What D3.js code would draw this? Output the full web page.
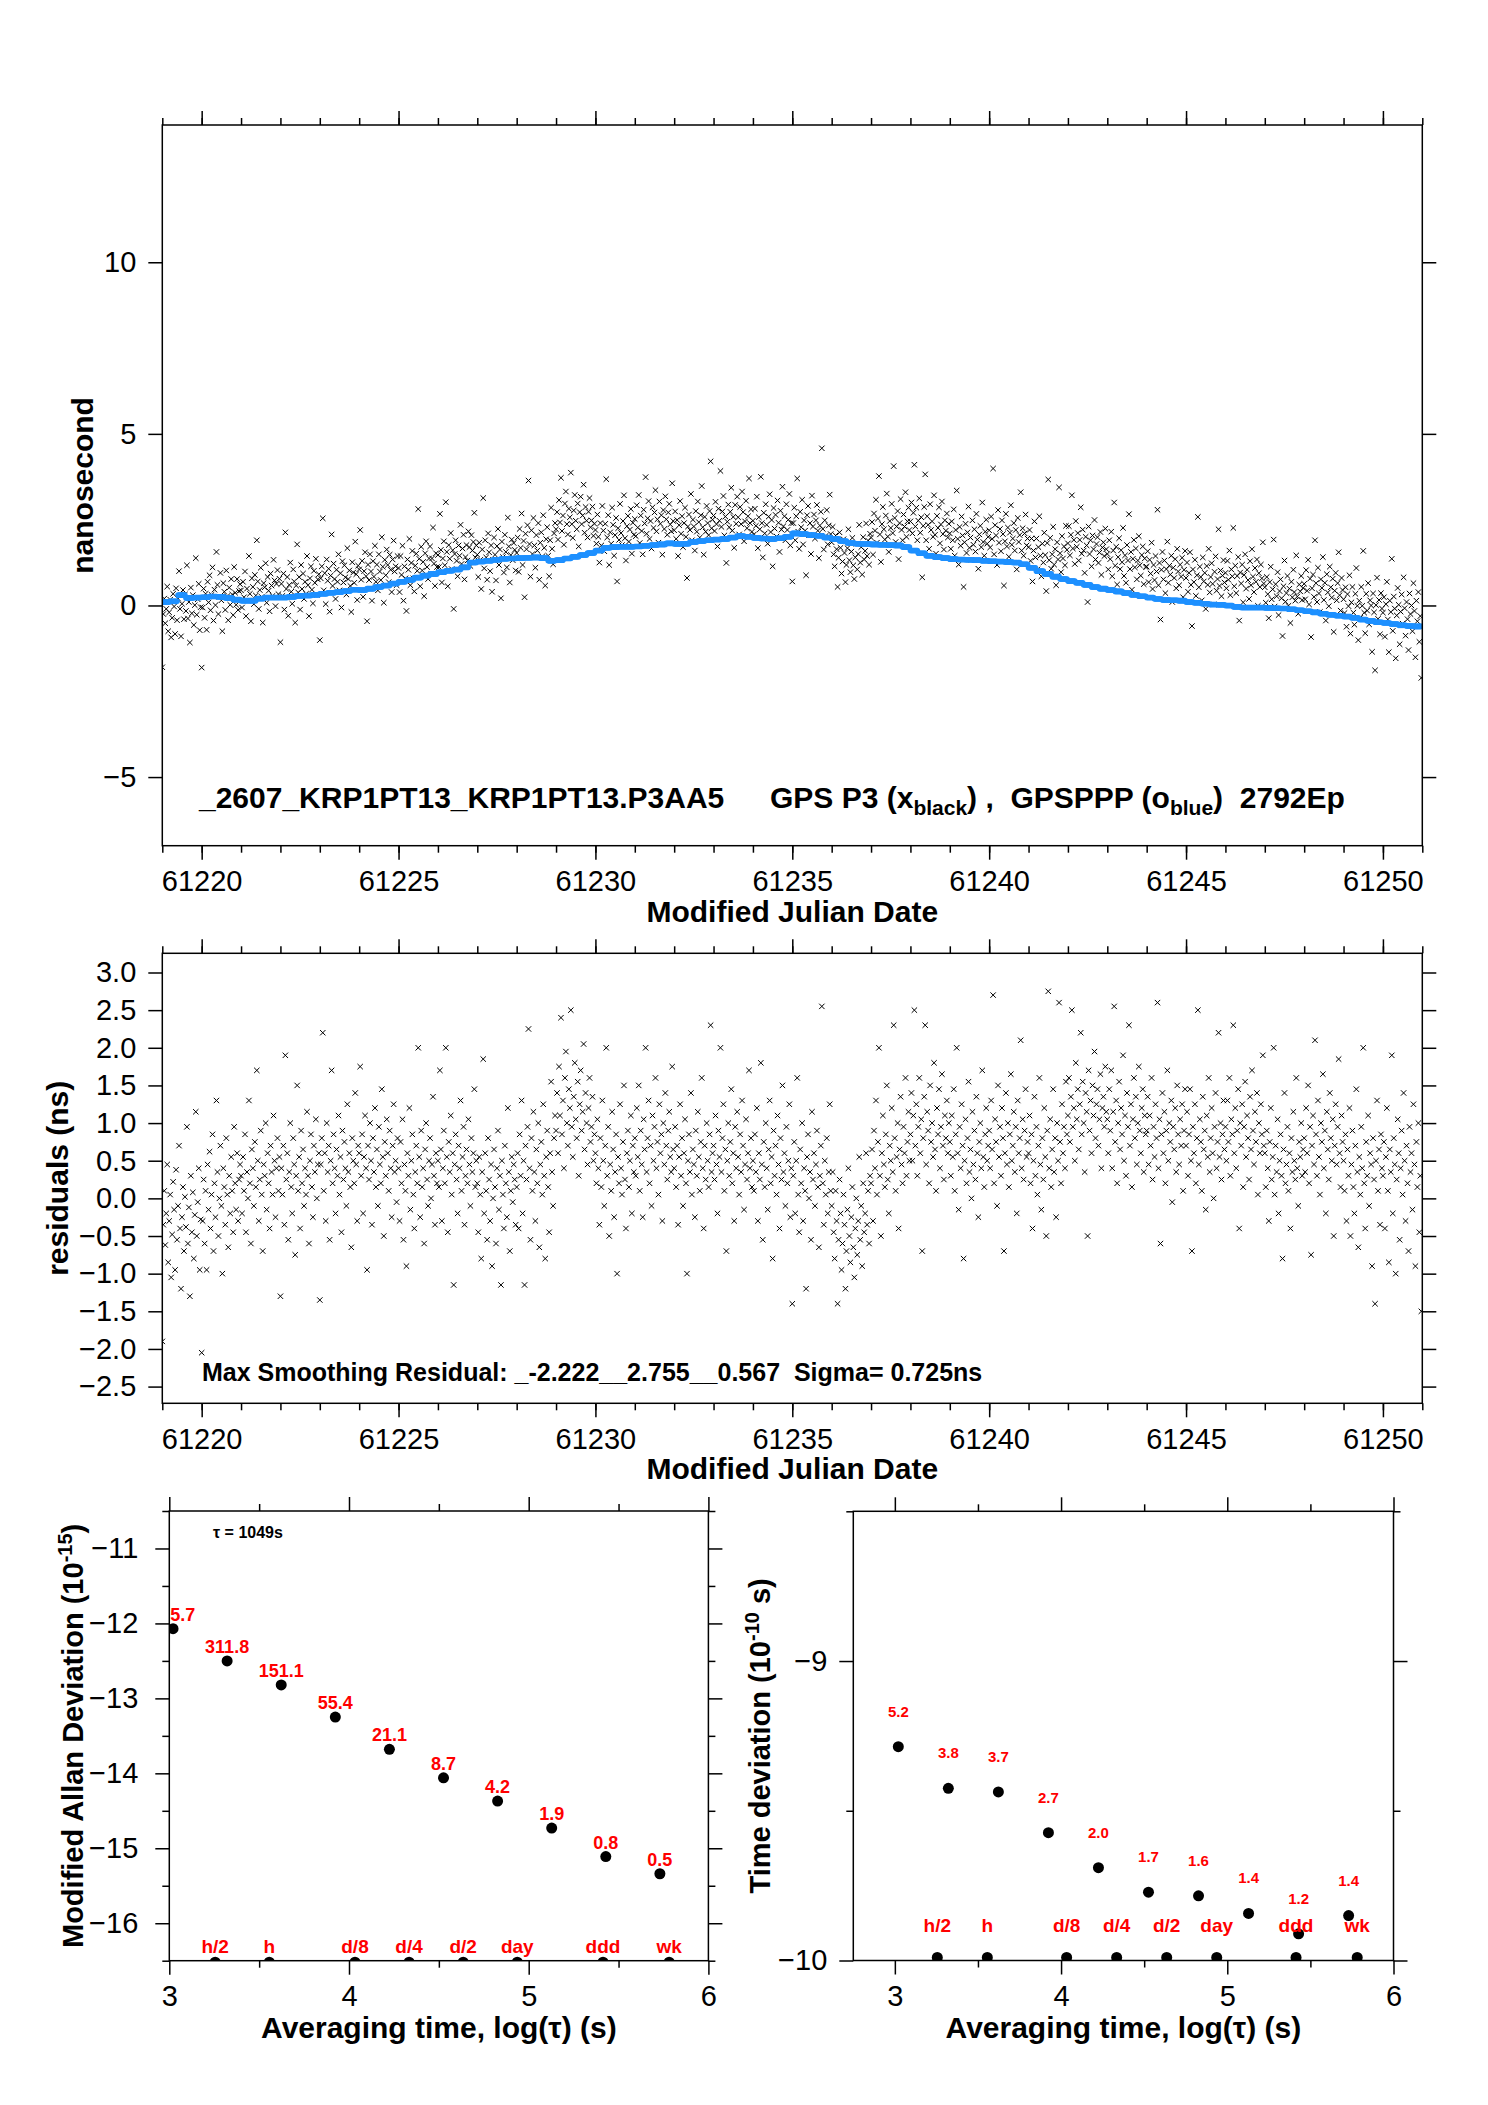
<!DOCTYPE html>
<html>
<head>
<meta charset="utf-8">
<script src="https://cdn.jsdelivr.net/npm/d3@7"></script>
<style>
  body { margin: 0; background: #fff; }
  text { font-family: "Liberation Sans", Arial, sans-serif; }
</style>
</head>
<body>
<div id="chart-area"></div>
<script>
// ---- data ----
var mjdStart = 61219, pointsPerDay = 40
var mjdDomain = [61219, 61251]
var nsDomain = [-7, 14]
var resDomain = [-2.722, 3.255]

// GPSPPP (blue), one value every 0.2 day
var bluePerStep = 8
var blue = [
  0.10, 0.12, 0.30, 0.22, 0.23,   0.24, 0.26, 0.25, 0.22, 0.17,
  0.14, 0.14, 0.20, 0.23, 0.23,   0.23, 0.25, 0.28, 0.29, 0.31,
  0.34, 0.37, 0.39, 0.42, 0.46,   0.45, 0.49, 0.54, 0.58, 0.64,
  0.69, 0.74, 0.81, 0.87, 0.92,   0.97, 1.01, 1.05, 1.11, 1.25,
  1.28, 1.30, 1.33, 1.36, 1.37,   1.38, 1.39, 1.40, 1.38, 1.30,
  1.32, 1.37, 1.42, 1.47, 1.53,   1.60, 1.68, 1.70, 1.71, 1.71,
  1.72, 1.74, 1.76, 1.78, 1.81,   1.79, 1.80, 1.85, 1.88, 1.90,
  1.92, 1.94, 1.98, 2.02, 2.00,   1.97, 1.95, 1.94, 1.96, 2.00,
  2.10, 2.08, 2.05, 2.03, 1.98,   1.94, 1.88, 1.82, 1.80, 1.79,
  1.78, 1.77, 1.76, 1.75, 1.70,   1.60, 1.52, 1.45, 1.41, 1.38,
  1.35, 1.34, 1.33, 1.32, 1.30,   1.29, 1.28, 1.27, 1.25, 1.20,
  1.10, 1.00, 0.92, 0.84, 0.77,   0.71, 0.66, 0.60, 0.54, 0.49,
  0.45, 0.41, 0.36, 0.31, 0.27,   0.23, 0.19, 0.16, 0.15, 0.14,
  0.10, 0.08, 0.05, 0.03, 0.02,   0.00, -0.04, -0.06, -0.06, -0.06,
  -0.07, -0.08, -0.09, -0.11, -0.14,   -0.17, -0.20, -0.24, -0.27, -0.30,
  -0.32, -0.36, -0.41, -0.45, -0.49,   -0.51, -0.54, -0.58, -0.60, -0.61
]

// residuals GPS P3 - GPSPPP (ns), 40 per day from MJD 61219
var residuals = [
  -1.90,-0.35,0.10,-0.62,-0.20,0.45,-0.85,-0.30,0.05,-1.05,-0.48,0.22,-0.15,-0.95,0.38,-0.55,-0.10,0.70,-0.40,-1.20,-0.25,0.15,-0.70,0.02,-0.38,0.95,-0.60,-0.12,-1.30,0.30,-0.45,0.08,-0.80,-0.22,1.15,-0.50,-0.05,0.40,-0.95,-0.28,
  -2.05,-0.30,0.25,-0.60,0.10,-0.95,0.45,-0.15,0.62,-0.40,0.05,0.85,-0.70,0.20,-0.25,1.30,0.35,-0.50,0.00,0.70,-0.10,-1.00,0.40,0.15,-0.35,0.80,0.05,-0.65,0.30,-0.20,0.55,0.10,-0.45,0.95,0.20,-0.15,0.60,-0.30,0.25,0.45,
  0.30,-0.20,0.55,0.10,0.85,-0.45,0.35,0.00,1.30,0.20,-0.60,0.65,0.40,-0.10,0.75,0.15,1.70,0.50,-0.30,0.25,0.90,0.05,-0.70,0.45,0.30,1.00,-0.15,0.60,0.20,-0.40,0.70,0.35,0.05,1.10,0.50,-0.25,0.40,0.80,0.10,0.55,
  -1.30,0.40,0.05,0.70,-0.35,1.90,0.25,0.60,-0.55,0.35,1.00,0.15,-0.20,0.80,0.45,-0.75,0.30,1.50,0.10,0.55,-0.40,0.90,0.20,0.65,-0.10,0.40,0.05,1.15,0.30,-0.60,0.50,0.85,0.15,-0.25,0.70,0.35,1.05,0.00,0.45,0.60,
  -1.35,0.45,0.80,2.20,0.10,0.60,-0.30,1.00,0.35,0.70,-0.55,0.50,1.70,0.20,0.85,0.40,-0.20,0.65,0.30,1.10,0.05,0.55,-0.45,0.90,0.25,0.75,0.40,-0.10,1.25,0.35,0.60,0.15,-0.65,0.80,0.50,0.20,1.40,0.45,-0.30,0.70,
  0.60,1.75,0.30,0.85,-0.20,0.55,1.10,0.40,-0.95,0.70,0.25,1.00,0.50,-0.35,0.80,0.35,1.20,0.15,0.65,-0.10,0.95,0.45,0.20,1.45,0.55,-0.50,0.75,0.30,1.05,0.60,0.10,0.90,0.40,-0.25,0.70,1.25,0.35,0.50,-0.05,0.80,
  0.40,-0.30,0.75,0.20,1.05,-0.55,0.45,0.10,-0.90,0.60,0.30,1.20,-0.15,0.50,0.85,0.05,-0.40,0.35,0.70,0.20,2.00,0.55,-0.25,0.90,0.15,0.40,-0.60,0.65,1.00,0.25,-0.10,0.50,0.80,0.00,0.45,1.35,0.30,-0.35,0.60,0.20,
  0.50,0.15,1.70,0.65,-0.30,0.40,0.90,0.20,2.00,0.55,-0.45,0.75,0.35,1.10,0.05,0.60,-1.15,0.45,0.85,0.25,-0.20,0.70,0.40,1.30,0.10,0.55,0.95,-0.35,0.30,0.65,0.20,1.05,0.45,-0.10,0.80,0.35,0.60,1.45,0.15,0.50,
  0.20,-0.45,0.55,0.05,-0.80,0.35,1.85,-0.20,0.60,0.10,-0.55,0.80,0.25,-0.30,0.45,-0.90,0.00,0.65,0.15,-0.60,0.40,0.90,-0.15,0.30,-1.15,0.50,0.05,-0.40,0.70,0.20,-0.25,1.20,0.35,-0.70,0.10,0.55,-0.05,0.45,0.25,-0.35,
  0.15,0.60,-0.40,0.85,0.30,1.30,-0.20,0.50,-1.15,0.70,0.25,0.95,2.25,0.40,-0.55,0.80,0.10,1.15,0.35,-0.30,0.65,0.20,1.00,-0.65,0.45,0.75,0.05,1.25,0.30,-0.80,0.55,0.90,0.15,-0.45,0.60,1.55,0.35,-0.10,0.80,1.10,
  0.90,1.40,0.60,1.75,1.10,2.40,0.85,1.30,0.40,1.60,1.95,1.00,0.70,1.45,1.20,2.50,0.95,0.55,1.35,1.80,1.05,0.80,1.55,0.30,1.25,1.70,0.90,1.15,2.05,0.65,1.40,1.00,0.45,1.20,1.60,0.75,0.95,1.35,0.50,0.85,
  0.60,0.20,1.05,0.40,-0.35,0.80,0.15,1.30,0.50,-0.10,0.70,2.00,0.30,0.95,-0.50,0.45,0.10,1.15,0.65,-0.25,0.35,0.85,-1.00,0.55,0.20,1.25,0.40,0.05,0.75,1.50,0.25,-0.40,0.60,0.90,0.15,0.50,1.10,-0.20,0.70,0.35,
  0.80,0.30,1.20,0.55,1.50,0.10,0.90,0.45,-0.25,1.05,0.65,2.00,0.35,0.80,1.30,0.20,0.70,-0.10,1.10,0.50,0.95,1.60,0.40,0.75,0.05,1.25,0.60,0.85,-0.30,1.00,0.45,1.40,0.70,0.25,0.90,1.15,0.55,0.35,1.75,0.65,
  0.40,0.95,0.15,0.70,-0.35,0.55,1.25,0.30,0.80,-0.10,0.60,1.05,0.20,-1.00,0.50,0.85,0.35,1.40,0.05,0.65,0.45,-0.25,0.90,0.30,1.15,0.55,0.10,0.75,1.60,0.40,-0.40,0.70,0.25,1.00,0.50,0.15,0.85,2.30,0.35,0.60,
  0.70,0.25,1.10,0.45,-0.20,0.90,0.55,2.00,0.35,0.80,1.25,0.10,0.65,-0.70,0.50,1.00,0.30,0.75,1.45,0.20,0.60,-0.30,0.95,0.40,1.15,0.55,0.05,0.85,0.35,1.30,0.70,-0.15,0.45,1.05,0.25,0.60,1.70,0.40,0.80,0.15,
  0.50,0.10,0.85,0.35,1.20,-0.30,0.60,0.25,1.80,0.45,-0.55,0.75,0.15,1.00,0.40,-0.15,0.65,1.30,0.20,0.55,-0.80,0.90,0.30,0.70,0.05,1.10,0.45,-0.40,0.80,0.25,1.50,0.35,0.60,-0.10,0.95,0.20,0.50,1.25,-0.25,0.40,
  -1.40,0.30,0.75,-0.20,0.50,1.60,0.05,-0.45,0.65,0.20,1.00,-0.30,0.40,0.10,-1.20,0.55,0.85,0.00,0.35,-0.55,1.15,0.25,0.60,-0.10,0.45,0.90,0.15,-0.65,0.30,0.70,2.55,0.20,-0.35,0.50,0.05,0.80,-0.20,0.35,1.25,0.10,
  -0.10,0.35,-0.45,-0.80,0.10,-0.30,-1.40,-0.55,0.25,-0.20,-0.95,-0.60,0.05,-0.35,-1.20,-0.70,-0.15,0.40,-0.50,-0.85,-0.25,0.15,-0.65,-1.05,-0.40,0.00,-0.75,-0.30,0.55,-0.55,-0.10,-0.90,0.20,-0.45,-0.20,0.60,-0.35,0.10,-0.60,0.30,
  0.20,0.65,-0.30,0.90,0.40,1.30,0.05,0.75,2.00,0.30,-0.50,0.60,1.10,0.45,0.15,0.85,1.50,0.25,-0.20,0.70,0.50,1.20,0.35,2.30,0.80,0.10,0.55,1.00,-0.40,0.65,1.35,0.45,0.20,0.95,0.60,1.60,0.30,0.75,1.15,0.50,
  0.85,1.40,0.50,1.10,2.50,0.70,1.25,0.30,0.95,1.60,0.60,1.05,-0.70,0.80,1.35,2.30,0.45,1.15,0.90,0.20,1.50,0.75,1.00,0.55,1.80,0.65,0.10,1.20,0.85,1.45,0.40,0.95,1.65,0.70,0.25,1.10,0.80,1.30,0.60,1.00,
  0.75,0.30,1.10,0.55,1.45,0.10,0.85,2.00,0.60,-0.15,0.95,0.40,1.25,0.70,-0.80,0.50,1.05,0.20,0.80,1.55,0.35,0.65,0.00,1.15,0.45,0.90,0.25,1.35,0.60,-0.25,0.75,1.00,0.40,1.70,0.55,0.15,0.85,1.20,0.50,0.70,
  0.90,0.40,1.30,0.65,2.70,0.20,1.05,0.75,-0.10,1.50,0.55,0.95,0.30,1.20,0.80,-0.70,0.60,1.40,0.45,1.00,0.15,0.85,1.65,0.50,0.70,1.15,0.35,0.95,-0.20,1.30,0.60,0.80,2.10,0.40,1.05,0.25,0.90,1.45,0.55,0.75,
  0.60,1.10,0.20,0.85,-0.40,0.50,1.35,0.30,0.95,0.05,0.70,1.60,0.45,-0.15,0.80,0.25,1.20,0.55,-0.50,0.90,2.75,0.40,1.05,0.15,0.65,1.45,0.35,0.80,-0.25,1.00,0.50,2.60,0.75,0.20,1.25,0.60,0.95,0.40,1.55,0.85,
  1.10,1.60,0.75,1.35,2.50,0.95,1.20,0.50,1.80,1.05,1.45,0.65,1.25,2.20,0.85,1.55,1.00,0.35,1.40,1.15,-0.50,1.70,0.90,1.30,0.60,1.50,1.10,1.95,0.80,1.25,1.45,0.70,1.05,1.65,0.40,1.20,1.35,0.95,1.75,1.15,
  1.05,0.60,1.45,0.90,1.70,0.40,1.15,2.55,0.75,1.30,0.20,1.00,1.55,0.65,1.20,0.85,1.90,0.50,1.10,0.30,1.40,0.95,2.30,0.70,1.25,0.15,1.05,1.60,0.80,1.35,0.45,1.00,1.75,0.90,0.60,1.20,1.45,0.35,1.10,0.85,
  0.90,1.35,0.45,1.10,0.70,1.60,0.25,0.95,0.55,1.25,0.80,2.60,0.40,1.05,-0.60,0.85,1.40,0.60,1.15,0.20,0.90,1.70,0.50,1.00,0.75,1.30,-0.05,0.95,0.65,1.20,0.35,1.50,0.85,0.45,1.05,0.70,1.25,0.10,0.90,1.45,
  0.70,1.15,0.30,0.85,1.45,0.50,-0.70,0.95,0.60,1.25,0.20,0.80,2.50,0.45,1.05,0.75,0.10,1.35,0.65,0.90,-0.15,1.10,0.55,1.60,0.35,0.80,1.20,0.60,0.00,0.95,1.40,0.40,0.75,2.20,0.55,1.00,0.25,0.85,1.30,0.65,
  0.95,0.50,1.30,0.75,1.60,0.30,1.05,0.85,2.30,0.60,1.20,0.40,0.90,1.45,-0.40,1.00,0.70,1.25,0.15,0.95,1.55,0.55,1.10,0.80,0.25,1.35,0.65,1.70,0.90,0.45,1.15,0.75,1.40,0.05,1.00,0.60,1.25,0.85,1.90,0.70,
  0.60,0.15,0.90,0.40,-0.30,0.75,1.20,0.25,0.55,2.00,0.05,0.70,0.35,1.05,-0.20,0.50,0.85,0.30,-0.80,0.65,1.40,0.20,0.45,0.95,0.10,0.60,-0.40,0.80,0.35,1.15,0.50,0.25,1.60,0.40,-0.10,0.75,0.55,1.00,0.30,0.65,
  0.80,0.35,1.20,0.60,1.50,0.20,0.95,-0.75,0.70,1.10,0.45,2.10,0.85,0.30,1.30,0.55,0.05,1.00,0.75,1.65,0.40,0.90,-0.20,1.15,0.65,0.25,1.40,0.80,0.50,1.05,-0.50,0.70,1.25,0.45,0.95,1.85,0.60,0.15,1.10,0.75,
  0.50,0.10,0.85,-0.30,0.65,0.30,1.20,-0.50,0.45,0.90,0.15,-0.20,0.70,1.45,0.35,-0.65,0.55,0.05,0.95,0.40,2.00,0.20,-0.40,0.75,0.30,1.10,-0.10,0.60,0.45,-0.90,0.80,0.25,-1.40,0.50,1.30,0.10,0.65,-0.35,0.85,0.40,
  0.30,0.75,-0.40,0.55,1.20,0.10,-0.85,0.65,0.35,1.90,-0.20,0.80,0.45,-1.00,0.25,1.05,0.60,-0.55,0.40,0.90,0.05,1.40,0.50,-0.30,0.70,0.20,-0.70,0.95,0.35,0.60,-0.15,1.25,0.45,-0.90,0.75,0.15,1.00,-0.45,0.30,-1.50
]

// stability: averaging times (s), log10 of deviation, labels
var tauSeconds = [1049, 2098, 4196, 8392, 16784, 33568, 67136, 134272, 268544, 537088]
var madevLog = [-12.07, -12.50, -12.82, -13.25, -13.68, -14.06, -14.37, -14.73, -15.11, -15.34]
var madevLabels = ['5.7', '311.8', '151.1', '55.4', '21.1', '8.7', '4.2', '1.9', '0.8', '0.5']
var tdevLog = [-9.286, -9.425, -9.437, -9.573, -9.690, -9.772, -9.784, -9.843, -9.911, -9.850]
var tdevLabels = ['5.2', '3.8', '3.7', '2.7', '2.0', '1.7', '1.6', '1.4', '1.2', '1.4']
var markNames = ['h/2', 'h', 'd/8', 'd/4', 'd/2', 'day', 'ddd', 'wk']
var markSeconds = [1800, 3600, 10800, 21600, 43200, 86400, 259200, 604800]

// ---- drawing ----
var svg = d3.select('#chart-area')
  .append('svg')
    .attr('width', 1488)
    .attr('height', 2105)

svg.append('rect').attr('width', 1488).attr('height', 2105).attr('fill', '#fff')

function makePanel(id, box, xDomain, yDomain) {
  var x = d3.scaleLinear().domain(xDomain).range([box.left, box.right])
  var y = d3.scaleLinear().domain(yDomain).range([box.bottom, box.top])
  svg.append('clipPath').attr('id', id)
    .append('rect')
      .attr('x', box.left).attr('y', box.top)
      .attr('width', box.right - box.left).attr('height', box.bottom - box.top)
  return { x: x, y: y, box: box, clip: 'url(#' + id + ')' }
}

function drawAxes(p, o) {
  var b = p.box
  var sides = [
    [d3.axisBottom, p.x, 'translate(0,' + b.bottom + ')', o.xMajor, o.xMinor, o.xFmt, 11],
    [d3.axisTop, p.x, 'translate(0,' + b.top + ')', o.xMajor, o.xMinor, null, 0],
    [d3.axisLeft, p.y, 'translate(' + b.left + ',0)', o.yMajor, o.yMinor, o.yFmt, o.yPad || 12],
    [d3.axisRight, p.y, 'translate(' + b.right + ',0)', o.yMajor, o.yMinor, null, 0]
  ]
  sides.forEach(s => {
    var minor = s[0](s[1]).tickValues(s[4]).tickSize(7).tickSizeOuter(0).tickFormat('')
    var major = s[0](s[1]).tickValues(s[3]).tickSize(14).tickSizeOuter(0)
      .tickPadding(s[6]).tickFormat(s[5] ? d3.format(s[5]) : '')
    ;[minor, major].forEach(a => {
      var g = svg.append('g')
        .attr('transform', s[2])
        .call(a)
        .attr('font-size', 29)
        .attr('font-family', '"Liberation Sans", Arial, sans-serif')
      g.select('.domain').remove()
      g.selectAll('line').attr('stroke-width', 1.5)
    })
  })
  svg.append('rect')
    .attr('x', b.left).attr('y', b.top)
    .attr('width', b.right - b.left).attr('height', b.bottom - b.top)
    .attr('fill', 'none').attr('stroke', '#000').attr('stroke-width', 1.5)
}

function boldText(x, y, size, str) {
  return svg.append('text')
    .attr('x', x).attr('y', y)
    .attr('font-size', size).attr('font-weight', 'bold')
    .attr('xml:space', 'preserve').style('white-space', 'pre')
    .text(str)
}

function cross(cx, cy) {
  var s = 2.7
  return 'M' + (cx - s) + ',' + (cy - s) + 'L' + (cx + s) + ',' + (cy + s) +
         'M' + (cx - s) + ',' + (cy + s) + 'L' + (cx + s) + ',' + (cy - s)
}

var epochs = residuals.map((r, i) => {
  var b = blue[Math.floor(i / bluePerStep)]
  return { t: mjdStart + i / pointsPerDay, res: r, blue: b, p3: b + r }
})

var dayTicks = d3.range(61219, 61252)
var dayMajor = [61220, 61225, 61230, 61235, 61240, 61245, 61250]

// ---- panel 1: time series ----
var pTs = makePanel('clipTs', { left: 162.3, right: 1422.3, top: 125, bottom: 845.7 }, mjdDomain, nsDomain)

var gTs = svg.append('g').attr('clip-path', pTs.clip)
gTs.selectAll('path.p3')
  .data(epochs)
  .enter().append('path')
    .attr('class', 'p3')
    .attr('d', d => cross(pTs.x(d.t), pTs.y(d.p3)))
    .attr('stroke', '#000').attr('stroke-width', 1).attr('fill', 'none')
gTs.selectAll('circle.ppp')
  .data(epochs)
  .enter().append('circle')
    .attr('class', 'ppp')
    .attr('cx', d => pTs.x(d.t))
    .attr('cy', d => pTs.y(d.blue))
    .attr('r', 2.8)
    .attr('fill', '#1e90ff')

drawAxes(pTs, { xMajor: dayMajor, xMinor: dayTicks, yMajor: [-5, 0, 5, 10], yMinor: [], xFmt: 'd', yFmt: 'd' })

svg.append('text')
  .attr('transform', 'translate(93,485.4) rotate(-90)')
  .attr('text-anchor', 'middle').attr('font-size', 30).attr('font-weight', 'bold')
  .text('nanosecond')
boldText(792.3, 921.7, 30, 'Modified Julian Date').attr('text-anchor', 'middle')

boldText(199, 808, 30, '_2607_KRP1PT13_KRP1PT13.P3AA5')
var leg = boldText(770, 808, 30, 'GPS P3 (x')
leg.append('tspan').attr('dy', 7).attr('font-size', 21).text('black')
leg.append('tspan').attr('dy', -7).text(') ,  GPSPPP (o')
leg.append('tspan').attr('dy', 7).attr('font-size', 21).text('blue')
leg.append('tspan').attr('dy', -7).text(')  2792Ep')

// ---- panel 2: residuals ----
var pRes = makePanel('clipRes', { left: 162.3, right: 1422.3, top: 953.3, bottom: 1403.3 }, mjdDomain, resDomain)

svg.append('g').attr('clip-path', pRes.clip)
  .selectAll('path')
  .data(epochs)
  .enter().append('path')
    .attr('d', d => cross(pRes.x(d.t), pRes.y(d.res)))
    .attr('stroke', '#000').attr('stroke-width', 1).attr('fill', 'none')

drawAxes(pRes, {
  xMajor: dayMajor, xMinor: dayTicks,
  yMajor: d3.range(-2.5, 3.01, 0.5), yMinor: [], xFmt: 'd', yFmt: '.1f'
})

svg.append('text')
  .attr('transform', 'translate(68,1178.3) rotate(-90)')
  .attr('text-anchor', 'middle').attr('font-size', 30).attr('font-weight', 'bold')
  .text('residuals (ns)')
boldText(792.3, 1479.3, 30, 'Modified Julian Date').attr('text-anchor', 'middle')
boldText(202, 1380.7, 25, 'Max Smoothing Residual: _-2.222__2.755__0.567  Sigma= 0.725ns')

// ---- panel 3: modified Allan deviation ----
var pAd = makePanel('clipAd', { left: 169.3, right: 708.4, top: 1511, bottom: 1960.7 }, [3, 6], [-16.5, -10.5])
var stab = tauSeconds.map((t, i) => ({ lt: Math.log10(t), ad: madevLog[i], td: tdevLog[i], adl: madevLabels[i], tdl: tdevLabels[i] }))
var marks = markSeconds.map((s, i) => ({ lt: Math.log10(s), name: markNames[i] }))

var gAd = svg.append('g').attr('clip-path', pAd.clip)
gAd.selectAll('circle.pt')
  .data(stab)
  .enter().append('circle')
    .attr('cx', d => pAd.x(d.lt)).attr('cy', d => pAd.y(d.ad)).attr('r', 5.5)
gAd.selectAll('circle.mk')
  .data(marks)
  .enter().append('circle')
    .attr('cx', d => pAd.x(d.lt)).attr('cy', d => pAd.y(-16.52)).attr('r', 5.5)

svg.selectAll('text.adl')
  .data(stab)
  .enter().append('text')
    .attr('class', 'adl')
    .attr('y', d => pAd.y(d.ad) - 8)
    .attr('text-anchor', 'middle').attr('font-size', 18).attr('font-weight', 'bold').attr('fill', '#f00')
    .text(d => d.adl)
    .each(function (d) {
      var w = this.getComputedTextLength()
      d3.select(this).attr('x', Math.max(pAd.x(d.lt), pAd.box.left + 1 + w / 2))
    })
svg.selectAll('text.adm')
  .data(marks)
  .enter().append('text')
    .attr('class', 'adm')
    .attr('x', d => pAd.x(d.lt)).attr('y', pAd.box.bottom - 7.4)
    .attr('text-anchor', 'middle').attr('font-size', 19).attr('font-weight', 'bold').attr('fill', '#f00')
    .text(d => d.name)

drawAxes(pAd, {
  xMajor: [3, 4, 5, 6], xMinor: [3.5, 4.5, 5.5],
  yMajor: [-16, -15, -14, -13, -12, -11], yMinor: [-16.5, -15.5, -14.5, -13.5, -12.5, -11.5, -10.5],
  xFmt: 'd', yFmt: 'd', yPad: 17
})
boldText(213, 1538, 16, 'τ = 1049s')

var adTitle = svg.append('text')
  .attr('transform', 'translate(83,1735.9) rotate(-90)')
  .attr('text-anchor', 'middle').attr('font-size', 29).attr('font-weight', 'bold')
adTitle.append('tspan').text('Modified Allan Deviation (10')
adTitle.append('tspan').attr('dy', -11).attr('font-size', 20).text('-15')
adTitle.append('tspan').attr('dy', 11).text(')')
boldText(438.9, 2038, 30, 'Averaging time, log(τ) (s)').attr('text-anchor', 'middle')

// ---- panel 4: time deviation ----
var pTd = makePanel('clipTd', { left: 853.3, right: 1393.5, top: 1511.3, bottom: 1960.5 }, [2.75, 6], [-10, -8.5])

var gTd = svg.append('g').attr('clip-path', pTd.clip)
gTd.selectAll('circle.pt')
  .data(stab)
  .enter().append('circle')
    .attr('cx', d => pTd.x(d.lt)).attr('cy', d => pTd.y(d.td)).attr('r', 5.5)
gTd.selectAll('circle.mk')
  .data(marks)
  .enter().append('circle')
    .attr('cx', d => pTd.x(d.lt)).attr('cy', d => pTd.y(-9.99)).attr('r', 5.5)

svg.selectAll('text.tdl')
  .data(stab)
  .enter().append('text')
    .attr('x', d => pTd.x(d.lt)).attr('y', d => pTd.y(d.td) - 30)
    .attr('text-anchor', 'middle').attr('font-size', 15).attr('font-weight', 'bold').attr('fill', '#f00')
    .text(d => d.tdl)
svg.selectAll('text.tdm')
  .data(marks)
  .enter().append('text')
    .attr('x', d => pTd.x(d.lt)).attr('y', pTd.box.bottom - 29)
    .attr('text-anchor', 'middle').attr('font-size', 19).attr('font-weight', 'bold').attr('fill', '#f00')
    .text(d => d.name)

drawAxes(pTd, {
  xMajor: [3, 4, 5, 6], xMinor: [3.5, 4.5, 5.5],
  yMajor: [-10, -9], yMinor: [-9.5, -8.5],
  xFmt: 'd', yFmt: 'd'
})

var tdTitle = svg.append('text')
  .attr('transform', 'translate(770,1735.9) rotate(-90)')
  .attr('text-anchor', 'middle').attr('font-size', 29).attr('font-weight', 'bold')
tdTitle.append('tspan').text('Time deviation (10')
tdTitle.append('tspan').attr('dy', -11).attr('font-size', 20).text('-10')
tdTitle.append('tspan').attr('dy', 11).text(' s)')
boldText(1123.4, 2038, 30, 'Averaging time, log(τ) (s)').attr('text-anchor', 'middle')
</script>
</body>
</html>
